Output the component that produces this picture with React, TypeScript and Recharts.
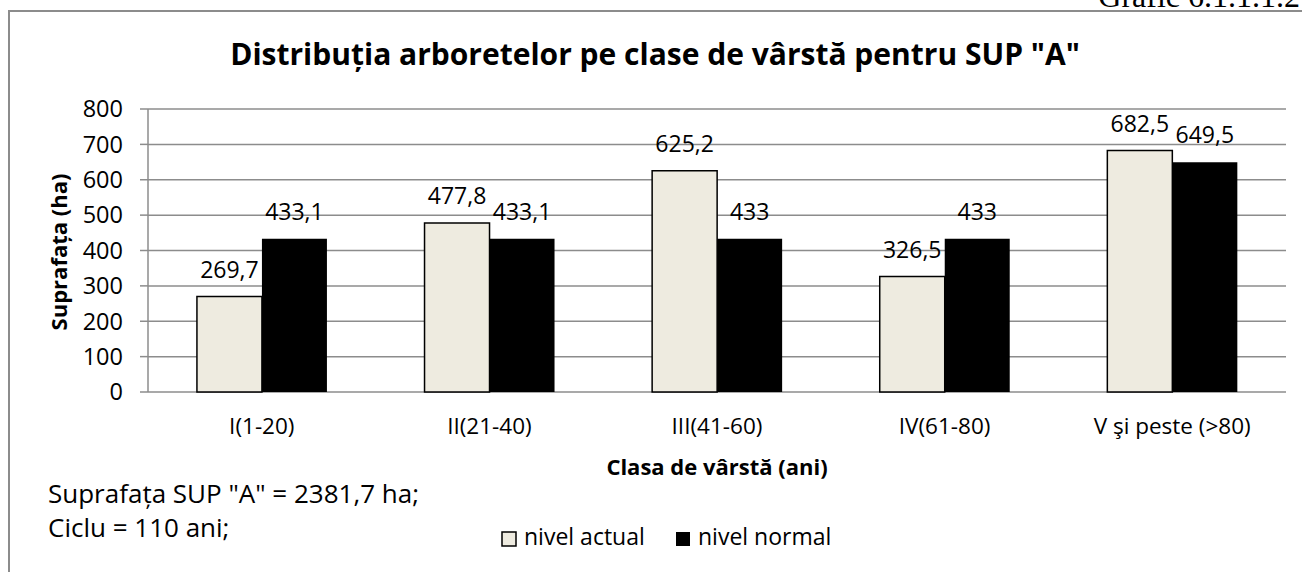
import React from 'react';
import { BarChart, Bar, XAxis, YAxis, CartesianGrid, LabelList } from 'recharts';

const categories = ['I(1-20)', 'II(21-40)', 'III(41-60)', 'IV(61-80)', 'V şi peste (>80)'];
const nivelActual = [269.7, 477.8, 625.2, 326.5, 682.5];
const nivelNormal = [433.1, 433.1, 433, 433, 649.5];
const yTicks = [0, 100, 200, 300, 400, 500, 600, 700, 800];
const boundaryTicks = [0, 1, 2, 3, 4, 5];

const FONT = "'Open Sans', Calibri, sans-serif";
const GRID = '#8c8c8c';
const BEIGE = '#EEEBE0';

const data = categories.map((c, i) => ({ clasa: c, actual: nivelActual[i], normal: nivelNormal[i] }));

const fmt = (v: number) => String(v).replace('.', ',');

const ValueLabel = (props: any) => {
  const { x, y, width, value } = props;
  return (
    <text x={x + width / 2} y={y - 19} textAnchor="middle" fontFamily={FONT} fontSize={23} fill="#000">
      {fmt(value)}
    </text>
  );
};

const CatTick = (props: any) => {
  const { x, y, payload } = props;
  return (
    <text x={x} y={y + 42} textAnchor="middle" fontFamily={FONT} fontSize={22.5} fill="#000">
      {payload.value}
    </text>
  );
};

export default function App() {
  return (
    <div style={{ position: 'absolute', left: 0, top: 0, width: 1302, height: 572, background: '#fff', overflow: 'hidden' }}>
      {/* chenarul graficului */}
      <div style={{ position: 'absolute', left: 8, top: 10, width: 1320, height: 600, border: `2px solid ${GRID}` }} />
      <BarChart
        width={1302}
        height={572}
        data={data}
        margin={{ top: 109, right: 16, left: 0, bottom: 150 }}
        barCategoryGap="21.5%"
        barGap={0}
        style={{ position: 'absolute', left: 0, top: 0 }}
      >
        <CartesianGrid horizontal vertical={false} stroke={GRID} strokeWidth={1.5} />
        <XAxis
          xAxisId="b"
          type="number"
          domain={[0, 5]}
          ticks={boundaryTicks}
          allowDataOverflow
          height={0}
          tickSize={7}
          tickFormatter={() => ''}
          axisLine={{ stroke: GRID, strokeWidth: 1.5 }}
          tickLine={{ stroke: GRID, strokeWidth: 1.5 }}
        />
        <XAxis
          xAxisId="c"
          dataKey="clasa"
          height={30}
          axisLine={false}
          tickLine={false}
          tickSize={0}
          tickMargin={0}
          interval={0}
          tick={<CatTick />}
        />
        <YAxis
          width={148}
          domain={[0, 800]}
          ticks={yTicks}
          interval={0}
          tickSize={8}
          tickMargin={17}
          axisLine={{ stroke: GRID, strokeWidth: 1.5 }}
          tickLine={{ stroke: GRID, strokeWidth: 1.5 }}
          tick={{ fontFamily: FONT, fontSize: 23.5, fill: '#000' }}
        />
        <Bar xAxisId="c" dataKey="actual" fill={BEIGE} stroke="#000" strokeWidth={1.5} isAnimationActive={false}>
          <LabelList dataKey="actual" content={<ValueLabel />} />
        </Bar>
        <Bar xAxisId="c" dataKey="normal" fill="#000" isAnimationActive={false}>
          <LabelList dataKey="normal" content={<ValueLabel />} />
        </Bar>
      </BarChart>
      <svg width={1302} height={572} style={{ position: 'absolute', left: 0, top: 0, pointerEvents: 'none' }}>
        <text x={1300} y={7} textAnchor="end" fontFamily="'Liberation Serif', serif" fontSize={32} fill="#000">
          Grafic 6.1.1.1.2
        </text>
        <text x={655} y={65} textAnchor="middle" fontFamily={FONT} fontSize={30} fontWeight="bold" fill="#000">
          Distribuția arboretelor pe clase de vârstă pentru SUP "A"
        </text>
        <text
          x={67}
          y={252}
          textAnchor="middle"
          fontFamily={FONT}
          fontSize={22}
          fontWeight="bold"
          fill="#000"
          transform="rotate(-90 67 252)"
        >
          Suprafața (ha)
        </text>
        <text x={717} y={475} textAnchor="middle" fontFamily={FONT} fontSize={22} fontWeight="bold" fill="#000">
          Clasa de vârstă (ani)
        </text>
        <text x={48} y={503} fontFamily={FONT} fontSize={26} fill="#000">
          Suprafața SUP "A" = 2381,7 ha;
        </text>
        <text x={48} y={537} fontFamily={FONT} fontSize={26} fill="#000">
          Ciclu = 110 ani;
        </text>
        <rect x={502} y={532} width={14} height={14} fill={BEIGE} stroke="#000" strokeWidth={1.5} />
        <text x={524} y={545} fontFamily={FONT} fontSize={23} fill="#000">nivel actual</text>
        <rect x={676} y={532} width={14} height={14} fill="#000" />
        <text x={698} y={545} fontFamily={FONT} fontSize={23} fill="#000">nivel normal</text>
      </svg>
    </div>
  );
}
